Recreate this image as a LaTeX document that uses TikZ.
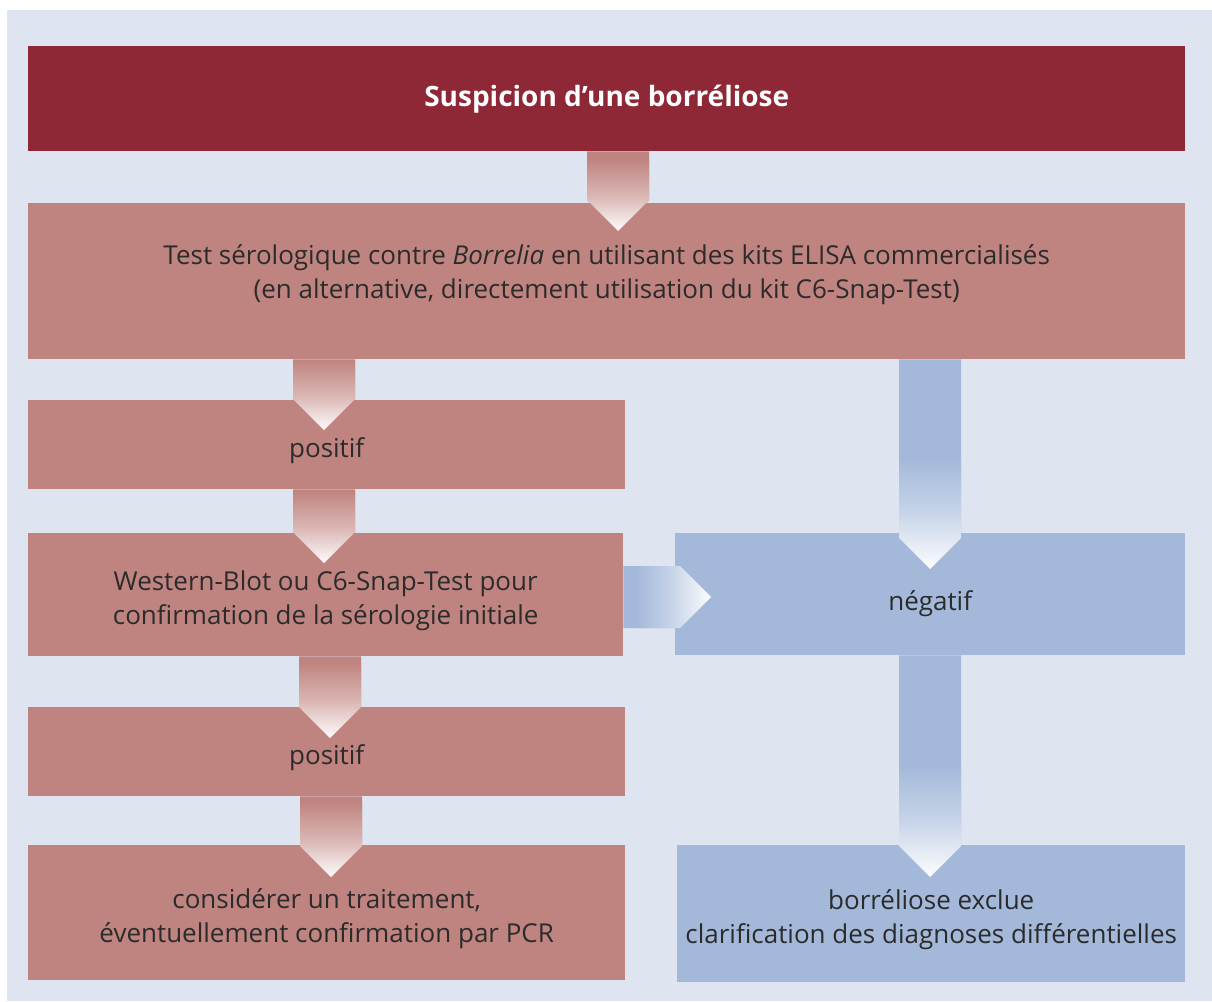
\documentclass[tikz,border=0pt]{standalone}
\usepackage{fontspec}
\setmainfont{Open Sans}
\usetikzlibrary{calc}
\definecolor{panel}{HTML}{DEE5F0}
\definecolor{darkred}{HTML}{8E2736}
\definecolor{rosebox}{HTML}{C08480}
\definecolor{bluebox}{HTML}{A4B9DA}
\definecolor{txt}{HTML}{2B2B2B}
\tikzset{
  box/.style={draw=none, inner sep=0pt, anchor=north west},
  redbox/.style={box, fill=rosebox},
  bluebx/.style={box, fill=bluebox},
  lbl/.style={align=center, text=txt, inner sep=0pt, font=\fontsize{26}{34}\selectfont, yshift=-6pt},
  titlebox/.style={box, fill=darkred, text=white, font=\fontsize{28}{30}\selectfont\bfseries},
}
% vertical block arrow: #1 source, #2 target, #3 x centre (px), #4 penetration (px), #5 colour, #6 fade length
\newcommand\vblockarrow[6]{%
  \fill[#5] let \p1=(#1.south), \p2=(#2.north) in
    (#3pt-31pt,\y1) -- (#3pt+31pt,\y1) -- (#3pt+31pt,\y2-#4pt+31pt) -- (#3pt,\y2-#4pt)
    -- (#3pt-31pt,\y2-#4pt+31pt) -- cycle;
  \shade[top color=#5, bottom color=#5!3!white, middle color=#5!60!white] let \p1=(#1.south), \p2=(#2.north) in
    (#3pt-31pt,\y2-#4pt+#6pt) -- (#3pt+31pt,\y2-#4pt+#6pt) -- (#3pt+31pt,\y2-#4pt+31pt) -- (#3pt,\y2-#4pt)
    -- (#3pt-31pt,\y2-#4pt+31pt) -- cycle;
}
% horizontal block arrow: #1 source, #2 target, #3 y centre (px), #4 penetration, #5 colour
\newcommand\hblockarrow[5]{%
  \fill[#5] let \p1=(#1.east), \p2=(#2.west) in
    (\x1,-#3pt+31pt) -- (\x2+#4pt-31pt,-#3pt+31pt) -- (\x2+#4pt,-#3pt) -- (\x2+#4pt-31pt,-#3pt-31pt)
    -- (\x1,-#3pt-31pt) -- cycle;
  \shade[left color=#5, right color=#5!3!white, middle color=#5!60!white] let \p1=(#1.east), \p2=(#2.west) in
    (\x2+#4pt-75pt,-#3pt+31pt) -- (\x2+#4pt-31pt,-#3pt+31pt) -- (\x2+#4pt,-#3pt) -- (\x2+#4pt-31pt,-#3pt-31pt)
    -- (\x2+#4pt-75pt,-#3pt-31pt) -- cycle;
}
\begin{document}
\begin{tikzpicture}[x=1pt,y=-1pt]
  \useasboundingbox (0,0) rectangle (1212,1001);
  \fill[white] (0,0) rectangle (1212,1001);
  \fill[panel] (7,10) rectangle (1212,1001);

  \node[titlebox, minimum width=1157pt, minimum height=105pt] (top) at (28,46) {Suspicion d’une borréliose};
  \node[redbox, minimum width=1157pt, minimum height=156pt,
    label={[lbl, yshift=13pt]center:{Test sérologique contre \textit{Borrelia} en utilisant des kits ELISA commercialisés\\(en alternative, directement utilisation du kit C6-Snap-Test)}}] (sero) at (28,203) {};
  \node[redbox, minimum width=597pt, minimum height=89pt,
    label={[lbl]center:positif}] (pos1) at (28,400) {};
  \node[redbox, minimum width=595pt, minimum height=123pt,
    label={[lbl]center:{Western-Blot ou C6-Snap-Test pour\\confirmation de la sérologie initiale}}] (wb) at (28,533) {};
  \node[redbox, minimum width=597pt, minimum height=89pt,
    label={[lbl]center:positif}] (pos2) at (28,707) {};
  \node[redbox, minimum width=597pt, minimum height=135pt,
    label={[lbl]center:{considérer un traitement,\\éventuellement confirmation par PCR}}] (treat) at (28,845) {};
  \node[bluebx, minimum width=510pt, minimum height=122pt,
    label={[lbl, yshift=-3pt]center:négatif}] (neg) at (675,533) {};
  \node[bluebx, minimum width=508pt, minimum height=137pt,
    label={[lbl]center:{borréliose exclue\\clarification des diagnoses différentielles}}] (excl) at (677,845) {};

  \vblockarrow{top}{sero}{618}{28}{rosebox}{72}
  \vblockarrow{sero}{pos1}{324}{30}{rosebox}{70}
  \vblockarrow{pos1}{wb}{324}{30}{rosebox}{72}
  \vblockarrow{wb}{pos2}{330}{31}{rosebox}{75}
  \vblockarrow{pos2}{treat}{331}{32}{rosebox}{75}
  \vblockarrow{sero}{neg}{930}{36}{bluebox}{110}
  \vblockarrow{neg}{excl}{930}{32}{bluebox}{110}
  \hblockarrow{wb}{neg}{597}{36}{bluebox}
\end{tikzpicture}
\end{document}
